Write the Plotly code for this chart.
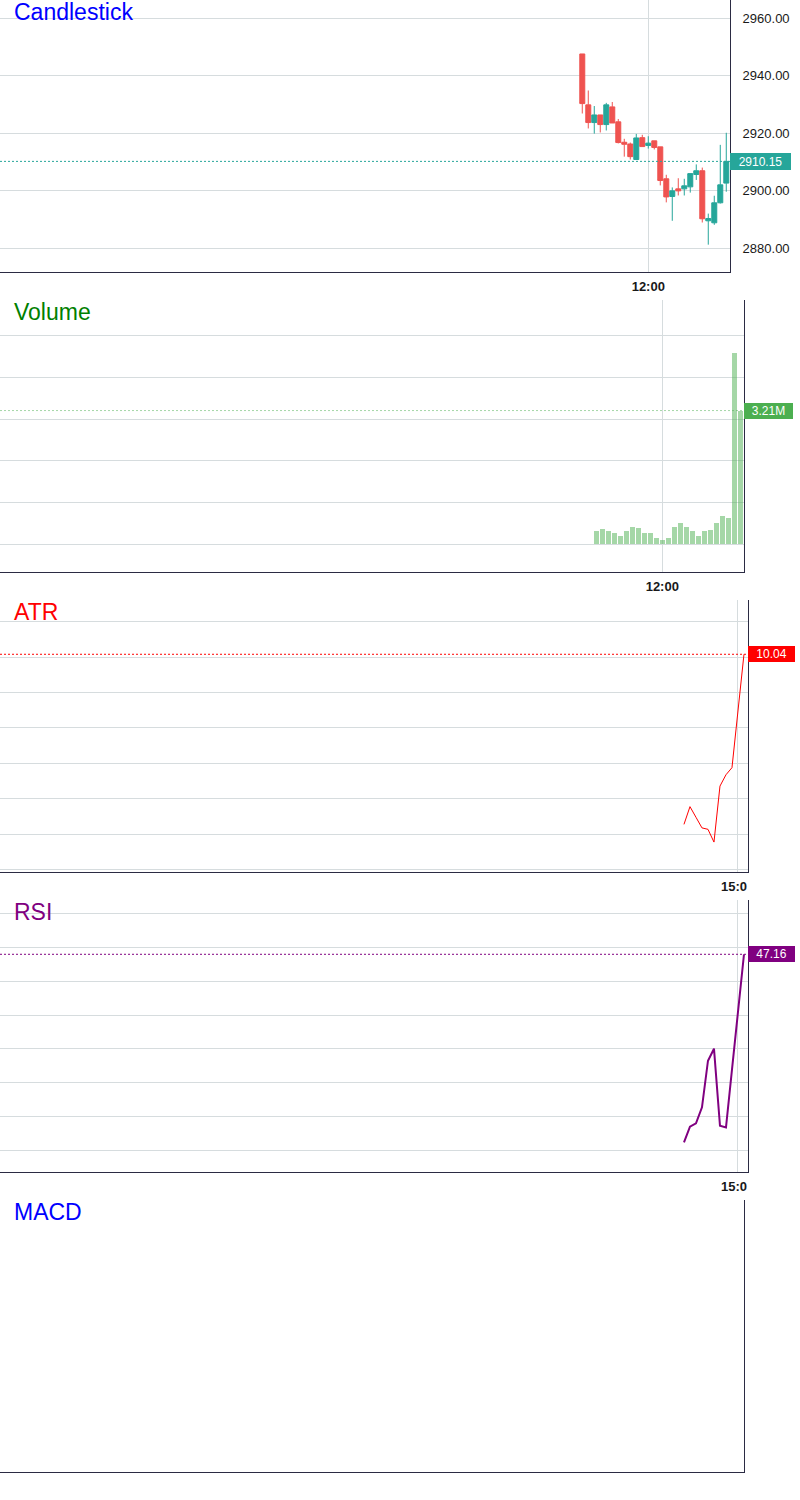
import plotly.graph_objects as go

# ---------------- data ----------------
times = ["09:15", "09:30", "09:45", "10:00", "10:15", "10:30", "10:45", "11:00",
         "11:15", "11:30", "11:45", "12:00", "12:15", "12:30", "12:45", "13:00",
         "13:15", "13:30", "13:45", "14:00", "14:15", "14:30", "14:45", "15:00",
         "15:15"]

opens = [2947.5, 2929.8, 2923.65, 2926.3, 2922.95, 2929.1, 2923.9, 2916.8, 2916.2,
         2910.8, 2918.4, 2915.7, 2917.3, 2915.2, 2904.1, 2897.95, 2900.6, 2900.6,
         2901.3, 2905.6, 2906.9, 2889.5, 2888.8, 2895.75, 2902.6]
highs = [2947.5, 2934.8, 2929.4, 2926.3, 2930.5, 2930.8, 2924.9, 2918.0, 2916.7,
         2919.7, 2919.4, 2918.9, 2917.3, 2915.2, 2905.5, 2901.1, 2904.3, 2904.1,
         2905.9, 2909.1, 2908.0, 2892.0, 2898.2, 2915.9, 2920.1]
lows = [2926.8, 2921.6, 2919.8, 2920.2, 2920.9, 2923.5, 2916.4, 2911.8, 2910.8,
        2910.8, 2915.3, 2914.6, 2914.3, 2901.8, 2895.9, 2889.5, 2898.3, 2898.3,
        2899.3, 2903.7, 2888.9, 2881.2, 2888.1, 2895.5, 2899.6]
closes = [2930.25, 2923.65, 2926.3, 2922.95, 2929.8, 2923.5, 2916.7, 2916.1, 2911.8,
          2918.3, 2915.3, 2916.5, 2915.0, 2903.5, 2897.8, 2899.9, 2899.9, 2901.65,
          2905.9, 2906.9, 2890.2, 2890.3, 2895.75, 2902.0, 2910.15]

volumes = [310000, 370000, 310000, 260000, 210000, 310000, 420000, 400000, 280000,
           260000, 160000, 110000, 160000, 420000, 520000, 420000, 330000, 210000,
           310000, 350000, 520000, 680000, 620000, 4600000, 3210000]

ind_times = times[14:]
atr = [7.64, 7.89, 7.74, 7.59, 7.57, 7.39, 8.18, 8.34, 8.44, 9.24, 10.04]
rsi = [33.28, 34.43, 34.68, 35.86, 39.30, 40.19, 34.50, 34.38, 38.64, 42.90, 47.16]

panel_titles = ["Candlestick", "Volume", "ATR", "RSI", "MACD"]
title_colors = ["#0000ff", "#008000", "#ff0000", "#800080", "#0000ff"]

# ---------------- style ----------------
W, H = 800, 1500
GRID = "#d6dcde"
BORDER = "#2b2b43"
TEXT = "#191919"
UP, DOWN = "#26a69a", "#ef5350"
FONT = "Liberation Sans, Arial, sans-serif"


def py(p):
    return 1 - p / H


fig = go.Figure()

fig.add_trace(go.Candlestick(
    x=times, open=opens, high=highs, low=lows, close=closes,
    increasing=dict(line=dict(color=UP, width=1), fillcolor=UP),
    decreasing=dict(line=dict(color=DOWN, width=1), fillcolor=DOWN),
    whiskerwidth=0, xaxis="x", yaxis="y", showlegend=False))

fig.add_trace(go.Bar(
    x=times, y=volumes, marker=dict(color="rgba(76,175,80,0.5)", line=dict(width=0)),
    width=0.78, xaxis="x2", yaxis="y2", showlegend=False))

fig.add_trace(go.Scatter(
    x=ind_times, y=atr, mode="lines", line=dict(color="#ff0000", width=1),
    xaxis="x3", yaxis="y3", showlegend=False))

fig.add_trace(go.Scatter(
    x=ind_times, y=rsi, mode="lines", line=dict(color="#800080", width=2),
    xaxis="x4", yaxis="y4", showlegend=False))

# empty MACD panel
fig.add_trace(go.Scatter(x=[], y=[], xaxis="x5", yaxis="y5", showlegend=False))

# panel geometry (px): top, bottom, right
panels = [(0, 271.7, 730.0), (300, 571.7, 744.0), (600, 871.7, 748.3),
          (900, 1171.7, 748.3), (1200, 1471.7, 744.0)]
xranges = [[-97.05, 24.62], [-99.38, 24.62], [-100.0, 24.72], [-100.0, 24.72],
           [-99.38, 24.62]]
xticks = [["12:00"], ["12:00"], ["15:00"], ["15:00"], []]
xticktext = [["12:00"], ["12:00"], ["15:0"], ["15:0"], []]

layout = dict(
    width=W, height=H, margin=dict(l=0, r=0, t=0, b=0),
    paper_bgcolor="white", plot_bgcolor="white",
    font=dict(family=FONT, color=TEXT, size=13),
    boxgap=0.17, boxgroupgap=0, bargap=0,
    hovermode=False, showlegend=False,
)

for i, (top, bot, right) in enumerate(panels):
    n = "" if i == 0 else str(i + 1)
    has_ticks = len(xticks[i]) > 0
    layout["xaxis" + n] = dict(
        domain=[0, right / W], anchor="y" + n, type="category",
        categoryorder="array", categoryarray=times,
        range=xranges[i], tickvals=xticks[i], ticktext=xticktext[i],
        showgrid=has_ticks, gridcolor=GRID, gridwidth=1,
        showline=True, linecolor=BORDER, linewidth=1,
        ticks="", ticklabelstandoff=3,
        ticklabelshift=(-4 if i in (2, 3) else 0),
        tickfont=dict(size=13, color=TEXT, family=FONT, weight="bold"),
        showticklabels=has_ticks, zeroline=False,
        rangeslider=dict(visible=False), fixedrange=True,
    )
    layout["yaxis" + n] = dict(
        domain=[py(bot), py(top)], anchor="x" + n, side="right",
        showline=True, linecolor=BORDER, linewidth=1,
        gridcolor=GRID, gridwidth=1, zeroline=False, ticks="",
        showticklabels=False, fixedrange=True,
    )

layout["yaxis"].update(range=[2871.8, 2966.26], tick0=2880, dtick=20,
                       tickformat=".2f", showticklabels=True, showgrid=True,
                       ticklabelstandoff=9,
                       tickfont=dict(size=13, color=TEXT, family=FONT))
layout["yaxis2"].update(range=[-658000, 5864000], tick0=0, dtick=1000000, showgrid=True)
layout["yaxis3"].update(range=[6.972, 10.806], tick0=0, dtick=0.5, showgrid=True)
layout["yaxis4"].update(range=[31.107, 51.169], tick0=47.677, dtick=2.5, showgrid=True)
layout["yaxis5"].update(range=[0, 1], showgrid=False)

fig.update_layout(**layout)

# titles
for i, (top, bot, right) in enumerate(panels):
    fig.add_annotation(
        text=panel_titles[i], xref="paper", yref="paper", x=12 / W,
        y=py(top + 12), xanchor="left", yanchor="middle", showarrow=False,
        font=dict(size=23, color=title_colors[i], family=FONT))

# last-value price lines and labels
last_vals = [
    ("y", closes[-1], UP, UP, f"{closes[-1]:.2f}", 730.0, 61, 17),
    ("y2", volumes[-1], "rgba(76,175,80,0.5)", "#4caf50",
     f"{volumes[-1] / 1e6:.2f}M", 744.0, 49, 16),
    ("y3", atr[-1], "#ff0000", "#ff0000", f"{atr[-1]:.2f}", 748.3, 47, 16),
    ("y4", rsi[-1], "#800080", "#800080", f"{rsi[-1]:.2f}", 748.3, 47, 16),
]
for yref, val, lcol, bcol, txt, xr, w, h in last_vals:
    xname = "x" if yref == "y" else "x" + yref[1:]
    fig.add_shape(type="line", xref=xname + " domain", yref=yref, x0=0, x1=1,
                  y0=val, y1=val, line=dict(color=lcol, width=1, dash="2px,2px"),
                  layer="above")
    fig.add_annotation(
        text=txt, xref="paper", yref=yref, x=xr / W, y=val, xanchor="left",
        yanchor="middle", showarrow=False, bgcolor=bcol, width=w, height=h,
        borderpad=0, borderwidth=0, align="center",
        font=dict(size=12, color="white", family=FONT))

fig.write_html("out.html")
